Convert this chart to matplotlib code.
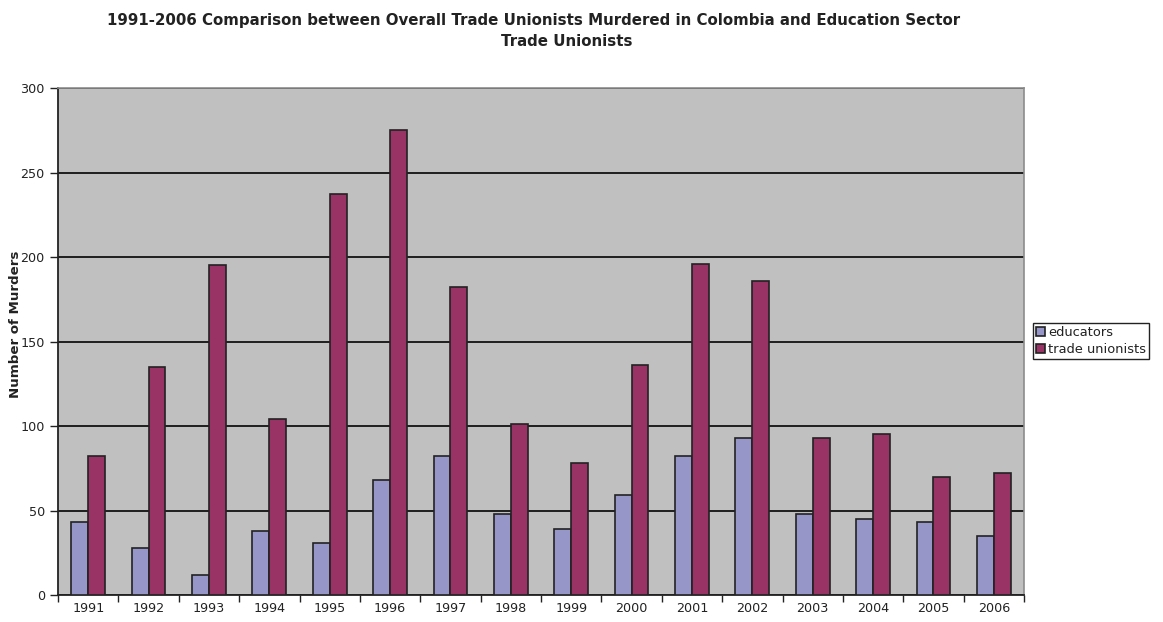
import numpy as np
import matplotlib.pyplot as plt

years = ['1991', '1992', '1993', '1994', '1995', '1996', '1997', '1998',
         '1999', '2000', '2001', '2002', '2003', '2004', '2005', '2006']
educators = [43, 28, 12, 38, 31, 68, 82, 48, 39, 59, 82, 93, 48, 45, 43, 35]
trade_unionists = [82, 135, 195, 104, 237, 275, 182, 101, 78, 136, 196, 186, 93, 95, 70, 72]

plt.rcParams['font.family'] = ['DejaVu Sans']

fig = plt.figure(figsize=(11.63, 6.22), dpi=100)
ax = fig.add_axes([0.0499, 0.0434, 0.8306, 0.8151])

x = np.arange(len(years))
w = 0.28
ax.bar(x - w/2, educators, w, color='#9696C8', edgecolor='#222222', linewidth=1.2,
       label='educators', zorder=3)
ax.bar(x + w/2, trade_unionists, w, color='#993366', edgecolor='#222222', linewidth=1.2,
       label='trade unionists', zorder=3)

ax.set_facecolor('#C0C0C0')
ax.set_xlim(-0.5, len(years) - 0.5)
ax.set_ylim(0, 300)
ax.set_yticks(np.arange(0, 301, 50))
ax.yaxis.grid(True, color='#111111', linewidth=1.3, zorder=1)
ax.set_axisbelow(True)

# year labels in the middle, ticks on the category borders
ax.set_xticks(x)
ax.set_xticklabels(years, fontsize=9.2, color='#222222')
ax.set_xticks(np.arange(-0.5, len(years)), minor=True)
ax.tick_params(axis='x', which='major', length=0, pad=5)
ax.tick_params(axis='x', which='minor', length=5, width=1, color='#222222', direction='out')
ax.tick_params(axis='y', length=5.5, width=1, color='#222222', labelsize=9.2,
               labelcolor='#222222', pad=4)

for s in ['top', 'right']:
    ax.spines[s].set_color('#8C8C8C')
    ax.spines[s].set_linewidth(1.2)
ax.spines['left'].set_color('#222222')
ax.spines['left'].set_linewidth(1.3)
ax.spines['bottom'].set_color('#222222')
ax.spines['bottom'].set_linewidth(1.3)

fig.text(0.013, 0.478, 'Number of Murders', rotation=90, fontsize=9.6, fontweight='bold',
         ha='center', va='center', color='#222222')

fig.text(0.459, 0.967,
         '1991-2006 Comparison between Overall Trade Unionists Murdered in Colombia and Education Sector',
         fontsize=10.8, fontweight='bold', ha='center', va='center', color='#222222')
fig.text(0.4875, 0.934, 'Trade Unionists',
         fontsize=10.8, fontweight='bold', ha='center', va='center', color='#222222')

leg = fig.legend(loc='upper left', bbox_to_anchor=(0.888, 0.481), fontsize=9.4,
                 frameon=True, fancybox=False, edgecolor='#222222', framealpha=1,
                 handlelength=0.7, handleheight=0.7, handletextpad=0.2,
                 borderpad=0.25, labelspacing=0.3, borderaxespad=0)
leg.get_frame().set_linewidth(1.0)
for t in leg.get_texts():
    t.set_color('#222222')

fig.savefig('out.png', dpi=100, facecolor='white')
